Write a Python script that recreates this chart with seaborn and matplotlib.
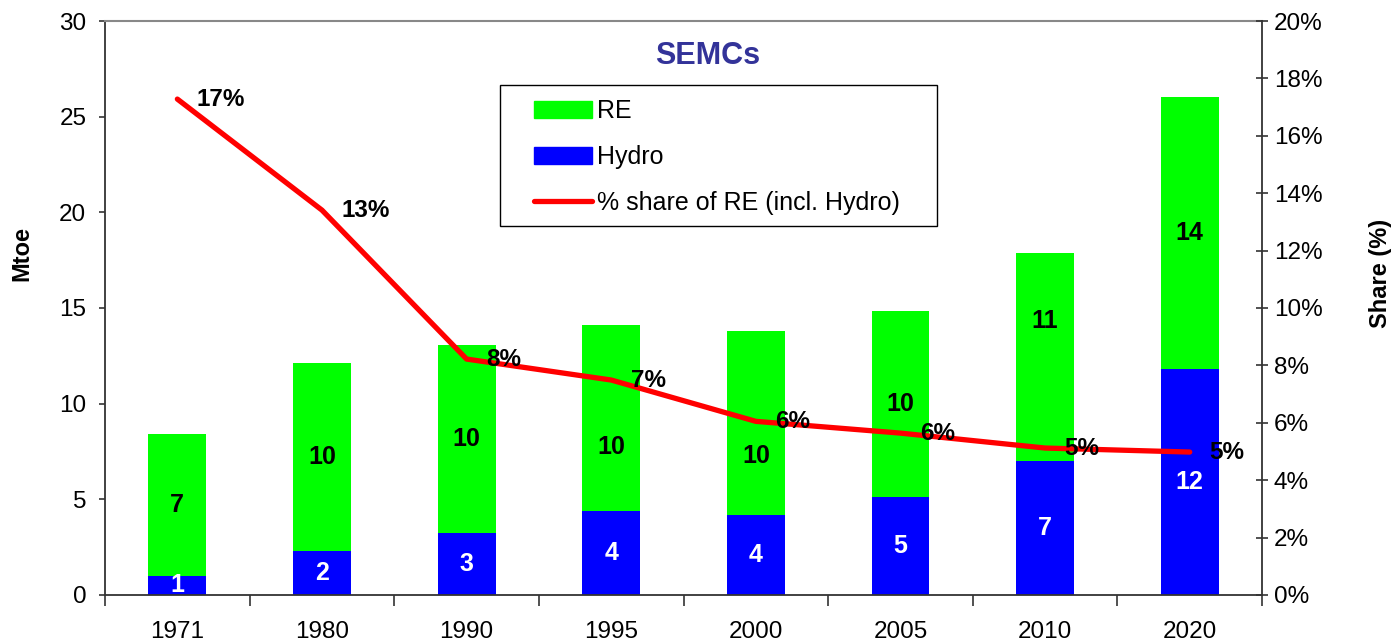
import numpy as np
import pandas as pd
import seaborn as sns
import matplotlib.pyplot as plt
from matplotlib.patches import Patch, Rectangle
from matplotlib.lines import Line2D
from matplotlib.ticker import FixedLocator, PercentFormatter

years = ["1971", "1980", "1990", "1995", "2000", "2005", "2010", "2020"]
hydro = [0.99, 2.3, 3.24, 4.39, 4.18, 5.12, 7.0, 11.81]
re = [7.43, 9.83, 9.83, 9.72, 9.62, 9.73, 10.88, 14.22]
share = [17.28, 13.41, 8.22, 7.49, 6.05, 5.64, 5.12, 4.98]

# manual nudges of the RE labels (points), as moved by hand in the original
re_label_nudge = [0, 0, 0, -21, -24, 0, 26, 0]

df = pd.DataFrame({"year": years, "hydro": hydro, "re": re, "share": share})
df["total"] = df["hydro"] + df["re"]
df["pos"] = np.arange(len(df))

sns.set_style("white")
plt.rcParams["font.family"] = ["Liberation Sans", "DejaVu Sans"]
plt.rcParams["text.color"] = "black"
plt.rcParams["xtick.color"] = "black"
plt.rcParams["ytick.color"] = "black"
plt.rcParams["axes.labelcolor"] = "black"

fig = plt.figure(figsize=(13.95, 6.43), dpi=100)
ax = fig.add_axes([0.0753, 0.0747, 0.9047 - 0.0753, 0.9673 - 0.0747])

green = "#00ff00"
blue = "#0000ff"
sns.barplot(data=df, x="year", y="total", color=green, width=0.4,
            saturation=1, linewidth=0, ax=ax)
sns.barplot(data=df, x="year", y="hydro", color=blue, width=0.4,
            saturation=1, linewidth=0, ax=ax)

# segment labels
for i, row in df.iterrows():
    ax.text(row["pos"], row["hydro"] / 2, f"{row['hydro']:.0f}", color="white",
            ha="center", va="center", fontsize=18, fontweight="bold")
    ax.annotate(f"{row['re']:.0f}", (row["pos"], row["hydro"] + row["re"] / 2),
                xytext=(0, re_label_nudge[i]), textcoords="offset points",
                color="black", ha="center", va="center", fontsize=18,
                fontweight="bold")

ax.set_xlim(-0.5, 7.5)
ax.set_ylim(0, 30)
ax.set_yticks(range(0, 31, 5))
ax.set_xlabel("")
ax.set_ylabel("")
ax.xaxis.set_major_locator(FixedLocator(np.arange(-0.5, 8, 1)))
ax.xaxis.set_minor_locator(FixedLocator(df["pos"].values))
ax.set_xticklabels([])
ax.set_xticklabels(years, minor=True)
ax.tick_params(axis="x", which="major", length=8, width=1.2, color="#333333",
               direction="out", bottom=True)
ax.tick_params(axis="x", which="minor", length=0, labelsize=17.5, pad=19,
               labelcolor="black")
ax.tick_params(axis="y", length=4.5, width=1.2, color="#333333", direction="out",
               left=True, labelsize=17.5, pad=9, labelcolor="black")

for s in ["left", "bottom"]:
    ax.spines[s].set_color("#333333")
    ax.spines[s].set_linewidth(1.3)
ax.spines["top"].set_color("#888888")
ax.spines["top"].set_linewidth(1.5)
ax.spines["right"].set_visible(False)

# share line on the right axis
ax2 = ax.twinx()
sns.lineplot(data=df, x="pos", y="share", color="red", linewidth=3.8, ax=ax2,
             solid_capstyle="round", solid_joinstyle="round")
ax2.set_ylim(0, 20)
ax2.set_xlim(-0.5, 7.5)
ax2.set_yticks(range(0, 21, 2))
ax2.yaxis.set_major_formatter(PercentFormatter(decimals=0))
ax2.set_ylabel("")
ax2.set_xlabel("")
ax2.tick_params(axis="y", length=9, width=1.2, color="#333333",
                direction="inout", right=True, labelsize=17.5, pad=4,
                labelcolor="black")
for s in ["left", "top", "bottom"]:
    ax2.spines[s].set_visible(False)
ax2.spines["right"].set_color("#333333")
ax2.spines["right"].set_linewidth(1.3)

for i, row in df.iterrows():
    ax2.annotate(f"{row['share']:.0f}%", (row["pos"], row["share"]),
                 xytext=(14, 0), textcoords="offset points", ha="left",
                 va="center", fontsize=17.5, fontweight="bold", color="black")

fig.text(0.507, 1 - 56 / 643, "SEMCs", ha="center", va="center",
         fontsize=22, fontweight="bold", color="#333399")

fig.text(0.0158, 0.605, "Mtoe", rotation=90, ha="center", va="center",
         fontsize=17, fontweight="bold")
fig.text(0.9893, 0.575, "Share (%)", rotation=90, ha="center", va="center",
         fontsize=17, fontweight="bold")

# legend box drawn separately to get Excel-like padding
ax2.add_patch(Rectangle((500 / 1395, 1 - 226 / 643), 437 / 1395, 141 / 643,
                        transform=fig.transFigure, facecolor="white",
                        edgecolor="black", linewidth=1.0, zorder=5,
                        clip_on=False))
handles = [Patch(color=green), Patch(color=blue),
           Line2D([0], [0], color="red", lw=3.8, solid_capstyle="round")]
leg = ax2.legend(handles, ["RE", "Hydro", "% share of RE (incl. Hydro)"],
                 loc="upper left", bbox_to_anchor=(534 / 1395, 1 - 99 / 643),
                 bbox_transform=fig.transFigure,
                 frameon=False, fontsize=18, labelcolor="black",
                 handlelength=2.32, handleheight=0.68, labelspacing=0.88,
                 handletextpad=0.2, borderpad=0, borderaxespad=0)
leg.set_zorder(6)

fig.savefig("out.png", dpi=100)
